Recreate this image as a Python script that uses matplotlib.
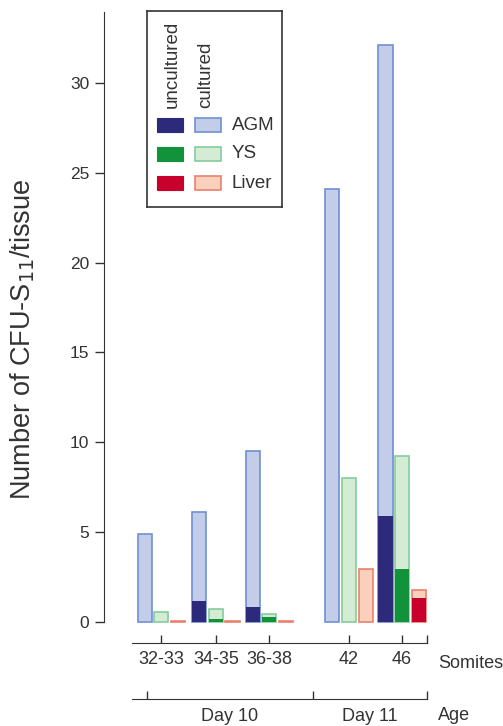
import numpy as np
import matplotlib
matplotlib.use("Agg")
import matplotlib.pyplot as plt
from matplotlib.patches import Rectangle

plt.rcParams["font.family"] = ["Liberation Sans", "DejaVu Sans"]

# Data
somites = ["32-33", "34-35", "36-38", "42", "46"]
ages = ["Day 10", "Day 11"]
agm_cultured = [4.9, 6.1, 9.5, 24.1, 32.1]
agm_uncultured = [0.0, 1.15, 0.8, 0.0, 5.9]
ys_cultured = [0.55, 0.7, 0.45, 8.0, 9.2]
ys_uncultured = [0.0, 0.15, 0.25, 0.0, 2.95]
liver_cultured = [0.06, 0.06, 0.06, 2.95, 1.75]
liver_uncultured = [0.0, 0.0, 0.0, 0.0, 1.3]

# layout
group_x = np.array([0, 3.28, 6.5, 11.3, 14.5])
width = 0.85
text_col = "#333333"
PT = 72 / 100  # points per pixel

fig = plt.figure(figsize=(5.03, 7.26), dpi=100)
ax = fig.add_axes([104 / 503, 104.3 / 726, 336 / 503, 609.7 / 726])

series = [
    (-1, agm_cultured, agm_uncultured, "#c3cdea", "#6f8fd3", "#2d2a7c"),
    (0, ys_cultured, ys_uncultured, "#d3ecd3", "#86cc9c", "#13923c"),
    (1, liver_cultured, liver_uncultured, "#f8d0bc", "#ec8070", "#c8002c"),
]
for off, cult, unc, fc, ec, dc in series:
    ax.bar(group_x + off, cult, width, color=fc, edgecolor=ec, linewidth=1.2, clip_on=False)
    ax.bar(group_x + off, unc, width, color=dc, linewidth=0, clip_on=False)

ax.set_xlim(-3.46, 16.78)
ax.set_ylim(0, 33.95)

for s in ["top", "right"]:
    ax.spines[s].set_visible(False)
ax.spines["left"].set_bounds(0, 33.95)
ax.spines["left"].set_color(text_col)
ax.set_yticks([0, 5, 10, 15, 20, 25, 30])
ax.tick_params(axis="y", length=9 * PT / 0.72 * 0.72, width=1, colors=text_col,
               labelsize=12.5, direction="out", pad=4)
fig.text(23 / 503, 1 - 339 / 726, "Number of CFU-S$_{11}$/tissue", rotation=90,
         ha="center", va="center", fontsize=19.5, color=text_col)

# Somites axis
ax.spines["bottom"].set_position(("outward", 21 * PT))
ax.spines["bottom"].set_bounds(-1.78, 15.99)
ax.spines["bottom"].set_color(text_col)
ax.set_xticks(list(group_x) + [15.99])
ax.set_xticklabels(somites + [""])
ax.tick_params(axis="x", direction="in", length=6, width=1, colors=text_col,
               labelsize=13, pad=6)
ax.text(16.66, -2.35, "Somites", fontsize=13, color=text_col, va="center", ha="left",
        clip_on=False)

# Age axis
sec = ax.secondary_xaxis("bottom")
sec.spines["bottom"].set_position(("outward", 77 * PT))
sec.spines["bottom"].set_bounds(-1.78, 15.99)
sec.spines["bottom"].set_color(text_col)
sec.set_xticks([-0.87, 9.13, 15.99])
sec.set_xticklabels(["", "", ""])
sec.set_xticks([(-0.87 + 9.13) / 2, (9.13 + 15.99) / 2], minor=True)
sec.set_xticklabels(ages, minor=True)
sec.tick_params(axis="x", which="major", direction="in", length=6, width=1, colors=text_col)
sec.tick_params(axis="x", which="minor", length=0, labelsize=13, colors=text_col, pad=7)
ax.text(16.66, -5.24, "Age", fontsize=13, color=text_col, va="center", ha="left",
        clip_on=False)

# Legend box
lg = fig.add_axes([147 / 503, 1 - 207 / 726, 135 / 503, 196 / 726])
lg.set_xlim(147, 282)
lg.set_ylim(207, 11)
lg.set_xticks([])
lg.set_yticks([])
for s in lg.spines.values():
    s.set_color(text_col)
    s.set_linewidth(1.2)
lg.text(172, 108, "uncultured", rotation=90, ha="center", va="bottom", fontsize=13.5,
        color=text_col)
lg.text(206, 108, "cultured", rotation=90, ha="center", va="bottom", fontsize=13.5,
        color=text_col)
for i, (label, (_, _, _, fc, ec, dc)) in enumerate(zip(["AGM", "YS", "Liver"], series)):
    yc = 125 + i * 29
    lg.add_patch(Rectangle((157, yc - 7), 26, 14, facecolor=dc, edgecolor=dc, lw=0.8))
    lg.add_patch(Rectangle((195, yc - 7), 26, 14, facecolor=fc, edgecolor=ec, lw=1.2))
    lg.text(232, yc, label, va="center", ha="left", fontsize=13.5, color=text_col)

fig.savefig("out.png", dpi=100)
